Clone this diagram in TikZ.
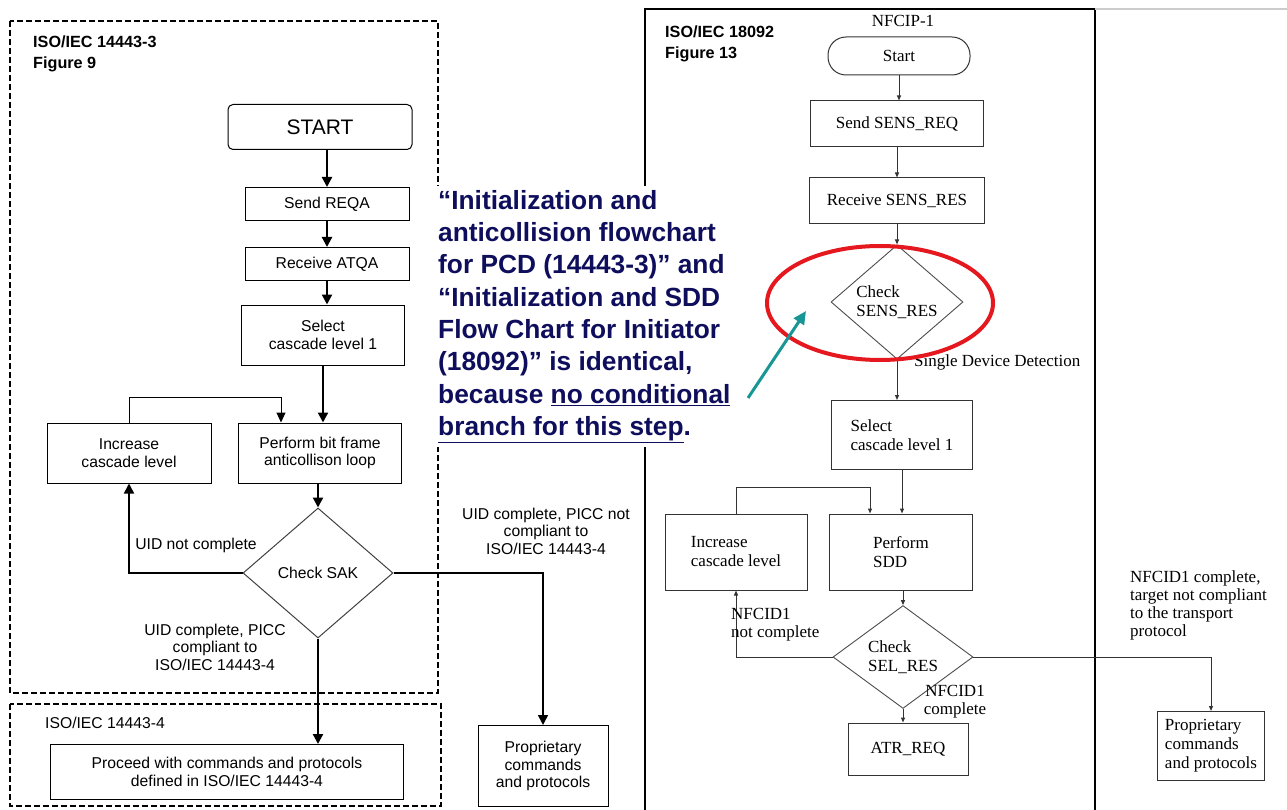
\documentclass[tikz,border=0pt]{standalone}
\usepackage{fontspec}
\setmainfont{Liberation Serif}
\newfontfamily\arialfont{Liberation Sans}
\usepackage{tikz}
\usetikzlibrary{arrows.meta,positioning,shapes.geometric,calc}
\definecolor{navytext}{RGB}{14,14,92}
\definecolor{tealarrow}{RGB}{24,150,150}
\definecolor{ringred}{RGB}{228,24,30}

\begin{document}
\begin{tikzpicture}[x=1pt,y=-1pt,
    boxA/.style={draw, line width=1pt, inner sep=0pt, align=center, font=\arialfont\fontsize{15.7}{17.5}\selectfont},
    boxB/.style={draw=black!80, line width=1pt, inner sep=0pt, align=left, font=\fontsize{17}{19}\selectfont},
    labA/.style={inner sep=0pt, align=center, font=\arialfont\fontsize{15.7}{17.5}\selectfont},
    labB/.style={inner sep=0pt, align=left, font=\fontsize{17}{18}\selectfont},
    flowA/.style={line width=2.2pt, -{Triangle[length=10pt,width=10pt]}},
    loopA/.style={line width=1pt, -{Triangle[length=10pt,width=9pt]}},
    flowB/.style={draw=black!80, line width=1pt, -{Triangle[length=5pt,width=4pt]}},
    dashframe/.style={line width=1.8pt, dash pattern=on 6pt off 3pt},
    titlefont/.style={anchor=north west, inner sep=0pt, align=left, font=\arialfont\bfseries\fontsize{16.2}{20.5}\selectfont}]
    \useasboundingbox (0,0) rectangle (1287,810);

    % ISO/IEC 14443-3
    \draw[dashframe] (10,21) rectangle (438,693);
    \draw[dashframe] (10,704) rectangle (441,806);
    \node[titlefont] (title3) at (33,36) {ISO/IEC 14443-3\\Figure 9};
    \node[labA, anchor=west] (title4) at (45,723) {ISO/IEC 14443-4};

    \node[boxA, rounded corners=5pt, minimum width=184, minimum height=45, font=\arialfont\fontsize{21}{24}\selectfont] (start3) at (320,127) {START};
    \node[boxA, minimum width=164, minimum height=33] (reqa) at (327,204) {Send REQA};
    \node[boxA, minimum width=164, minimum height=33] (atqa) at (327,264) {Receive ATQA};
    \node[boxA, minimum width=163, minimum height=60] (sel3) at (323,335) {Select\\cascade level 1};
    \node[boxA, minimum width=164, minimum height=60] (inc3) at (129,453) {Increase\\cascade level};
    \node[boxA, minimum width=163, minimum height=60] (bfa) at (320,453) {Perform bit frame\\anticollison loop};
    \node[diamond, draw=black!75, line width=1pt, minimum width=150, minimum height=130, inner sep=0pt, font=\arialfont\fontsize{15.7}{17.5}\selectfont] (sak) at (318,573) {Check SAK};
    \node[boxA, minimum width=353, minimum height=55] (proc) at (227,772) {Proceed with commands and protocols\\defined in ISO/IEC 14443-4};
    \node[boxA, minimum width=130, minimum height=81] (prop3) at (543,766) {Proprietary\\commands\\and protocols};

    \draw[flowA] (start3.south -| reqa.north) -- (reqa.north);
    \draw[flowA] (reqa) -- (atqa);
    \draw[flowA] (atqa) -- (atqa |- sel3.north);
    \draw[flowA] (sel3) -- (sel3 |- bfa.north);
    \draw[loopA] (inc3.north) -- ++(0,-25) -| ([xshift=-39pt]bfa.north);
    \draw[flowA] (bfa.south -| sak.north) -- (sak.north);
    \draw[line width=1.6pt, -{Triangle[length=10pt,width=10pt]}] (sak.west) -| (inc3.south);
    \draw[flowA] (sak.south) -- (sak.south |- proc.north);
    \draw[line width=1.6pt, -{Triangle[length=10pt,width=10pt]}] (sak.east) -| (prop3.north);

    \node[labA] (uidno) at (196,545) {UID not complete};
    \node[labA] (uidyes) at (215,647) {UID complete, PICC\\compliant to\\ISO/IEC 14443-4};
    \node[labA] (uidnot) at (546,531) {UID complete, PICC not\\compliant to\\ISO/IEC 14443-4};

    % ISO/IEC 18092
    \draw[line width=1.5pt] (645,810) -- (645,9) -- (1095,9) -- (1095,810);
    \draw[black!20, line width=1.5pt] (1095,9) -- (1287,9);
    \node[titlefont] (title18) at (665,26) {ISO/IEC 18092\\Figure 13};
    \node[labB] (nfcip) at (903,21) {NFCIP-1};

    \node[boxB, rounded corners=18pt, minimum width=142, minimum height=38, align=center] (startN) at (899,56) {Start};
    \node[boxB, minimum width=173, minimum height=46] (sreq) at (897,124) {Send SENS\_REQ};
    \node[boxB, minimum width=175, minimum height=46] (sres) at (897,201) {Receive SENS\_RES};
    \node[diamond, draw=black!70, line width=0.9pt, minimum width=132, minimum height=89, inner sep=0pt, align=left, font=\fontsize{17}{19}\selectfont] (chk) at (897,302) {Check\\SENS\_RES};
    \node[labB, anchor=west] (sdd) at (914,362) {Single Device Detection};
    \node[boxB, minimum width=141, minimum height=69] (selN) at (902,435) {Select\\cascade level 1};
    \node[boxB, minimum width=142, minimum height=76] (incN) at (736,552) {Increase\\cascade level};
    \node[boxB, minimum width=143, minimum height=76] (sddN) at (901,552) {Perform\\SDD};
    \node[diamond, draw=black!70, line width=0.9pt, minimum width=140, minimum height=84, inner sep=0pt, align=left, font=\fontsize{17}{19}\selectfont] (selres) at (903,657) {Check\\SEL\_RES};
    \node[boxB, minimum width=120, minimum height=52, align=center] (atr) at (908,749) {ATR\_REQ};
    \node[boxB, minimum width=107, minimum height=69] (propN) at (1211,746) {Proprietary\\commands\\and protocols};

    \draw[flowB] (startN) -- (startN |- sreq.north);
    \draw[flowB] (sreq) -- (sreq |- sres.north);
    \draw[flowB] (sres) -- (sres |- chk.north);
    \draw[flowB] (chk.south) -- (chk.south |- selN.north);
    \draw[flowB] (selN) -- (selN |- sddN.north);
    \draw[flowB] (incN.north) -- ++(0,-26) -| ([xshift=-31pt]sddN.north);
    \draw[flowB] (sddN.south -| selres.north) -- (selres.north);
    \draw[flowB] (selres.west) -| (incN.south);
    \draw[flowB] (selres.south) -- (selres.south |- atr.north);
    \draw[flowB] (selres.east) -| (propN.north);

    \node[labB, anchor=north west] (notcomp) at (731,608) {NFCID1\\not complete};
    \node[labB, align=center] (comp) at (955,702) {NFCID1\\complete};
    \node[labB, anchor=north west] (tgt) at (1130,570) {NFCID1 complete,\\target not compliant\\to the transport\\protocol};

    % Comment in between
    \draw[ringred, line width=4pt] (880,303) ellipse [x radius=113, y radius=57];
    \node[anchor=north west, fill=white, inner xsep=1pt, inner ysep=4pt, text=navytext, align=left,
          font=\arialfont\bfseries\fontsize{26.3}{32.3}\selectfont] (note) at (437,186)
        {“Initialization and\\anticollision flowchart\\for PCD (14443-3)” and\\“Initialization and SDD\\Flow Chart for Initiator\\(18092)” is identical,\\because \underline{no conditional}\\\underline{branch for this step}.};
    \coordinate (tealtail) at (748,398);
    \coordinate (tealtip) at (806,311);
    \draw[tealarrow, line width=3pt, -{Triangle[length=13pt,width=12pt]}] (tealtail) -- (tealtip);
\end{tikzpicture}
\end{document}
